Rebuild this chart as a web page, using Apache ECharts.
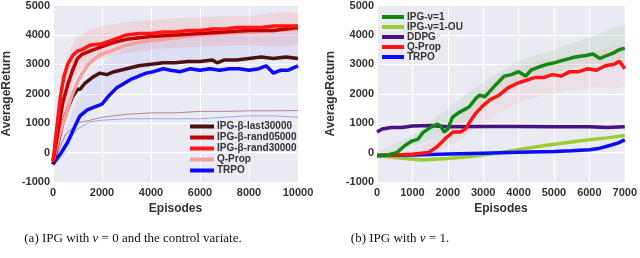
<!DOCTYPE html>
<html><head><meta charset="utf-8">
<script src="https://cdn.jsdelivr.net/npm/echarts@6/dist/echarts.min.js"></script>
<style>html,body{margin:0;padding:0;background:#fff}#c{width:640px;height:258px}</style>
</head><body><div id="c"></div>
<script>
// ---- Left chart (a) data: [episode, return]
const leftLast30000 = [[0,-400],[200,300],[400,1000],[600,1500],[800,1900],[1000,2150],[1100,2150],[1300,2350],[1600,2550],[1900,2700],[2200,2650],[2500,2750],[3000,2850],[3500,2950],[4000,3000],[4500,3050],[5000,3050],[5500,3100],[6000,3100],[6500,3150],[6700,3050],[7000,3150],[7500,3150],[8000,3200],[8500,3250],[9000,3200],[9500,3250],[10000,3200]];
const leftRand05000 = [[0,-300],[200,700],[400,1700],[600,2300],[800,2800],[1000,3200],[1200,3350],[1500,3450],[2000,3600],[2500,3750],[3000,3850],[4000,3950],[5000,4000],[6000,4050],[7000,4100],[8000,4150],[9000,4150],[10000,4250]];
const leftRand30000 = [[0,-300],[150,800],[300,1900],[450,2600],[600,3000],[800,3300],[1000,3450],[1200,3500],[1500,3650],[2000,3700],[2500,3850],[3000,4000],[3500,4050],[4000,4050],[4500,4100],[5000,4100],[5500,4150],[6000,4150],[6500,4200],[7000,4200],[7500,4250],[8000,4250],[8500,4250],[9000,4300],[9500,4300],[10000,4300]];
const leftQProp = [[0,-300],[300,700],[600,1500],[800,2000],[1000,2400],[1200,2700],[1400,2950],[1700,3200],[2000,3350],[2500,3500],[3000,3650],[3500,3750],[4000,3800],[5000,3900],[6000,4000],[7000,4050],[8000,4100],[9000,4150],[10000,4200]];
const leftTRPO = [[0,-400],[300,-50],[600,350],[900,900],[1100,1250],[1400,1450],[1700,1550],[2000,1650],[2300,1950],[2600,2200],[2900,2350],[3200,2500],[3500,2600],[3800,2700],[4100,2750],[4500,2850],[4800,2800],[5200,2750],[5600,2850],[6000,2800],[6400,2850],[6800,2800],[7200,2850],[7600,2850],[8000,2800],[8400,2850],[8700,2950],[9000,2700],[9300,2800],[9600,2800],[10000,2950]];
const leftThinBrown = [[0,-400],[500,600],[1000,1000],[1500,1100],[2000,1200],[3000,1300],[4000,1350],[5000,1350],[6000,1400],[7000,1400],[8000,1420],[9000,1420],[10000,1430]];
const leftThinBlue = [[0,-400],[500,300],[1000,800],[1500,1050],[2000,1100],[3000,1150],[4000,1150],[5000,1150],[6000,1150],[7000,1200],[8000,1250],[9000,1250],[10000,1200]];
// faint scatter clouds (lower / upper edges)
const leftRedCloudLow  = [[0,-500],[500,1200],[1000,2700],[2000,3200],[4000,3500],[6000,3600],[8000,3650],[10000,3700]];
const leftRedCloudHigh = [[0,-200],[500,3000],[1000,3900],[2000,4300],[4000,4500],[6000,4600],[8000,4650],[10000,4700]];
const leftBlueCloudLow  = [[0,-500],[500,0],[1000,900],[2000,1800],[4000,2900],[6000,3100],[8000,3200],[10000,3200]];
const leftBlueCloudHigh = [[0,-300],[500,700],[1000,1800],[2000,3000],[4000,3900],[6000,4000],[8000,4100],[10000,4100]];

// ---- Right chart (b) data
const rightIPG = [[0,-100],[300,-80],[556,0],[800,250],[1000,400],[1150,450],[1300,680],[1500,850],[1700,970],[1800,900],[1900,700],[2000,800],[2130,1200],[2300,1350],[2600,1550],[2800,1850],[2900,1950],[3050,1900],[3200,2100],[3350,2300],[3600,2600],[3800,2650],[4000,2750],[4200,2600],[4350,2800],[4550,2900],[4800,3000],[5000,3050],[5300,3150],[5600,3250],[5900,3300],[6100,3350],[6300,3200],[6500,3300],[6700,3400],[6850,3500],[7000,3550]];
const rightIPGOU = [[0,-100],[400,-150],[800,-200],[1300,-250],[2000,-200],[2500,-150],[3000,-80],[3500,0],[4000,100],[4500,200],[5000,280],[5500,360],[6000,440],[6500,500],[7000,580]];
const rightDDPG = [[0,700],[150,800],[400,850],[700,850],[1000,900],[1500,920],[2000,880],[3000,890],[4000,890],[5000,880],[6000,880],[6500,850],[7000,880]];
const rightQProp = [[0,-100],[500,-80],[1000,-60],[1450,0],[1700,200],[1950,500],[2150,700],[2350,700],[2500,800],[2650,1100],[2800,1350],[3000,1600],[3200,1800],[3450,1950],[3700,2200],[3950,2350],[4200,2450],[4450,2550],[4700,2550],[4950,2650],[5200,2600],[5450,2750],[5700,2750],[5950,2850],[6200,2800],[6450,2950],[6700,3000],[6850,3100],[7000,2850]];
const rightTRPO = [[0,-100],[1000,-80],[2000,-50],[3000,-20],[4000,10],[5000,40],[5500,60],[6000,100],[6300,150],[6600,250],[6800,320],[7000,430]];
const rightGreenCloudLow  = [[0,-200],[1000,200],[2000,700],[3000,1500],[4000,2300],[5000,2700],[6000,3000],[7000,3100]];
const rightGreenCloudHigh = [[0,0],[1000,600],[2000,1500],[3000,2400],[4000,3100],[5000,3500],[6000,3900],[7000,4300]];
const rightRedCloudLow  = [[0,-200],[1000,-200],[2000,200],[3000,1000],[4000,1700],[5000,2000],[6000,2200],[7000,2300]];
const rightRedCloudHigh = [[0,0],[1000,100],[2000,800],[3000,2100],[4000,2900],[5000,3200],[6000,3400],[7000,3600]];

const leftNames = ['IPG-β-last30000','IPG-β-rand05000','IPG-β-rand30000','Q-Prop','TRPO'];
const rightNames = ['IPG-ν=1','IPG-ν=1-OU','DDPG','Q-Prop ','TRPO '];
const captionA = '(a) IPG with {i|ν} = 0 and the control variate.';
const captionB = '(b) IPG with {i|ν} = 1.';

const chart = echarts.init(document.getElementById('c'), null, {renderer:'canvas'});
const FONT = 'Liberation Sans';
const tickLbl = {color:'#333', fontFamily:FONT, fontWeight:'bold', fontSize:11, formatter:(v)=>String(v)};
function xAx(idx, max, interval){
  return {type:'value', gridIndex:idx, min:0, max:max, interval:interval,
    name:'Episodes', nameLocation:'middle', nameGap:21,
    nameTextStyle:{color:'#333', fontFamily:FONT, fontWeight:'bold', fontSize:12},
    axisLine:{show:false}, axisTick:{show:false},
    axisLabel:Object.assign({margin:5}, tickLbl),
    splitLine:{show:true, lineStyle:{color:'#fff', width:1}}};
}
function yAx(idx){
  return {type:'value', gridIndex:idx, min:-1000, max:5000, interval:1000,
    name:'AverageReturn', nameLocation:'middle', nameGap:40,
    nameTextStyle:{color:'#333', fontFamily:FONT, fontWeight:'bold', fontSize:12},
    axisLine:{show:false}, axisTick:{show:false},
    axisLabel:Object.assign({margin:3}, tickLbl),
    splitLine:{show:true, lineStyle:{color:'#fff', width:1}}};
}
function ln(name, data, color, width, xi, opacity){
  return {type:'line', name:name, data:data, xAxisIndex:xi, yAxisIndex:xi,
    showSymbol:false, symbol:'none', silent:true, animation:false,
    lineStyle:{color:color, width:width, opacity:opacity==null?1:opacity},
    itemStyle:{color:color}};
}
function band(id, low, high, color, xi, opacity){
  return {type:'custom', name:id, xAxisIndex:xi, yAxisIndex:xi, silent:true, data:[[0,0]],
    clip:true,
    renderItem:function(params, api){
      const pts = high.map(p=>api.coord(p)).concat(low.slice().reverse().map(p=>api.coord(p)));
      return {type:'polygon', shape:{points:pts, smooth:0.3}, style:{fill:color, opacity:opacity}};
    }};
}
chart.setOption({
  animation:false,
  grid:[
    {left:50, top:5, width:248, height:177, backgroundColor:'#EAEAF2', show:true, borderWidth:0},
    {left:377, top:5, width:251, height:177, backgroundColor:'#EAEAF2', show:true, borderWidth:0}
  ],
  xAxis:[xAx(0,10000,2000), xAx(1,7000,1000)],
  yAxis:[yAx(0), yAx(1)],
  legend:[
    {data:leftNames, left:190, top:121, orient:'vertical', itemGap:0, itemWidth:24, itemHeight:4, icon:'rect', padding:0,
     textStyle:{color:'#333', fontFamily:FONT, fontWeight:'bold', fontSize:10, lineHeight:11, padding:[0,0,0,-2]}},
    {data:rightNames, left:382, top:12, orient:'vertical', itemGap:0, itemWidth:22, itemHeight:4, icon:'rect', padding:0,
     textStyle:{color:'#333', fontFamily:FONT, fontWeight:'bold', fontSize:10, lineHeight:10, padding:[0,0,0,-2]}}
  ],
  title:[
    {text:captionA, left:128, top:227, textAlign:'center',
     textStyle:{fontFamily:'Liberation Serif', fontWeight:'normal', fontSize:13, color:'#111', rich:{i:{fontStyle:'italic', fontFamily:'Liberation Serif', fontSize:13}}}},
    {text:captionB, left:395, top:227, textAlign:'center',
     textStyle:{fontFamily:'Liberation Serif', fontWeight:'normal', fontSize:13, color:'#111', rich:{i:{fontStyle:'italic', fontFamily:'Liberation Serif', fontSize:13}}}}
  ],
  series:[
    band('lrc', leftRedCloudLow, leftRedCloudHigh, '#ff5050', 0, 0.13),
    band('lbc', leftBlueCloudLow, leftBlueCloudHigh, '#5050ff', 0, 0.08),
    ln('thinBrown', leftThinBrown, '#8a4a4a', 1, 0, 0.6),
    ln('thinBlue', leftThinBlue, '#6f6fff', 1, 0, 0.6),
    ln(leftNames[4], leftTRPO, '#0a0aff', 3.5, 0),
    ln(leftNames[0], leftLast30000, '#4b1010', 3.5, 0),
    ln(leftNames[3], leftQProp, '#f5a0a0', 3.5, 0),
    ln(leftNames[1], leftRand05000, '#c00000', 3.5, 0),
    ln(leftNames[2], leftRand30000, '#ff1414', 3.5, 0),
    band('rgc', rightGreenCloudLow, rightGreenCloudHigh, '#40a040', 1, 0.1),
    band('rrc', rightRedCloudLow, rightRedCloudHigh, '#ff6060', 1, 0.08),
    ln(rightNames[1], rightIPGOU, '#9acd32', 3.5, 1),
    ln(rightNames[4], rightTRPO, '#0a0aff', 3.5, 1),
    ln(rightNames[2], rightDDPG, '#4b0f87', 3.5, 1),
    ln(rightNames[3], rightQProp, '#ff1414', 3.5, 1),
    ln(rightNames[0], rightIPG, '#118811', 3.5, 1)
  ]
});
</script></body></html>
